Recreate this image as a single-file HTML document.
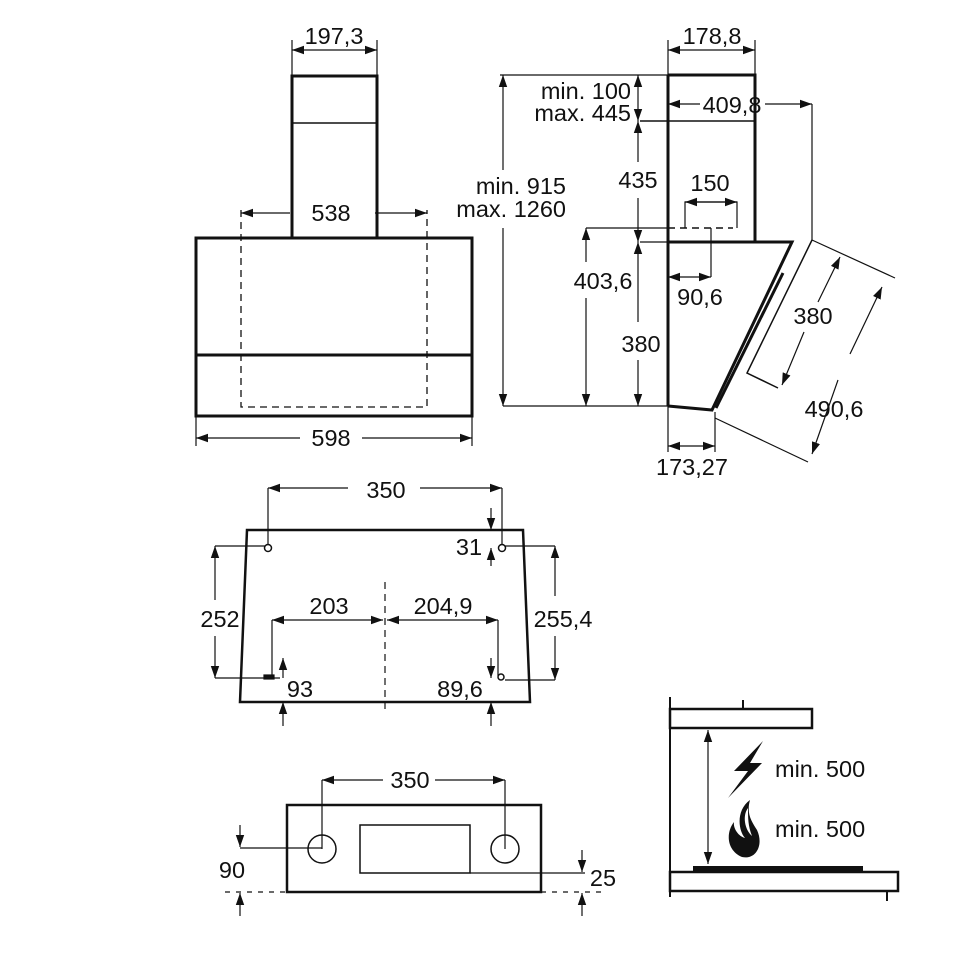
<!DOCTYPE html>
<html><head><style>body{margin:0;background:#fff}svg{display:block}text{font-family:"Liberation Sans",sans-serif;font-size:23.5px;fill:#111}</style></head><body>
<svg width="970" height="970" viewBox="0 0 970 970" xmlns="http://www.w3.org/2000/svg">
<defs>
<marker id="a" viewBox="0 0 10 10" refX="10" refY="5" markerWidth="12" markerHeight="12" markerUnits="userSpaceOnUse" orient="auto-start-reverse"><path d="M0,1.5 L10,5 L0,8.5 Z" fill="#111"/></marker>
</defs>
<g stroke="#111" fill="none" stroke-width="1.2">
<rect x="292" y="76" width="85" height="162" stroke-width="3"/>
<line x1="292" y1="123" x2="377" y2="123" stroke-width="1.5"/>
<rect x="196" y="238" width="276" height="178" stroke-width="3"/>
<line x1="196" y1="355" x2="472" y2="355" stroke-width="3"/>
<path d="M241,210 V407 H427 V210" stroke-dasharray="7,5" stroke-width="1.3"/>
<line x1="241" y1="213" x2="290" y2="213" marker-start="url(#a)"/>
<line x1="375" y1="213" x2="427" y2="213" marker-end="url(#a)"/>
<line x1="292" y1="40" x2="292" y2="76"/><line x1="377" y1="40" x2="377" y2="76"/>
<line x1="292" y1="50" x2="377" y2="50" marker-start="url(#a)" marker-end="url(#a)"/>
<line x1="196" y1="416" x2="196" y2="446"/><line x1="472" y1="416" x2="472" y2="446"/>
<line x1="196" y1="438" x2="300" y2="438" marker-start="url(#a)"/>
<line x1="362" y1="438" x2="472" y2="438" marker-end="url(#a)"/>
<path d="M668,75 H755 V242" stroke-width="3"/>
<line x1="668" y1="75" x2="668" y2="406" stroke-width="3"/>
<line x1="640" y1="121" x2="755" y2="121" stroke-width="1.5"/>
<path d="M668,242 H792 L712,410 L668,406" stroke-width="3"/>
<line x1="783" y1="273" x2="716" y2="408" stroke-width="3"/>
<path d="M812,240 L747,373 L778,388" stroke-width="1.5"/>
<line x1="812" y1="240" x2="895" y2="278"/>
<line x1="715" y1="418" x2="808" y2="462"/>
<line x1="882" y1="287" x2="850" y2="354" marker-start="url(#a)"/>
<line x1="838" y1="380" x2="812" y2="454" marker-end="url(#a)"/>
<line x1="840" y1="257" x2="818" y2="302" marker-start="url(#a)"/>
<line x1="804" y1="332" x2="782" y2="385" marker-end="url(#a)"/>
<line x1="500" y1="75" x2="668" y2="75"/>
<line x1="503" y1="406" x2="668" y2="406"/>
<line x1="503" y1="75" x2="503" y2="170" marker-start="url(#a)"/>
<line x1="503" y1="228" x2="503" y2="406" marker-end="url(#a)"/>
<line x1="586" y1="228" x2="668" y2="228"/>
<line x1="668" y1="228" x2="733" y2="228" stroke-dasharray="7,5" stroke-width="1.5"/>
<line x1="586" y1="228" x2="586" y2="262" marker-start="url(#a)"/>
<line x1="586" y1="298" x2="586" y2="406" marker-end="url(#a)"/>
<line x1="640" y1="242" x2="668" y2="242"/>
<line x1="638" y1="75" x2="638" y2="121" marker-start="url(#a)" marker-end="url(#a)"/>
<line x1="638" y1="121" x2="638" y2="162" marker-start="url(#a)"/>
<line x1="638" y1="198" x2="638" y2="242" marker-end="url(#a)"/>
<line x1="638" y1="242" x2="638" y2="322" marker-start="url(#a)"/>
<line x1="638" y1="360" x2="638" y2="406" marker-end="url(#a)"/>
<line x1="755" y1="40" x2="755" y2="75"/><line x1="668" y1="40" x2="668" y2="75"/>
<line x1="668" y1="50" x2="755" y2="50" marker-start="url(#a)" marker-end="url(#a)"/>
<line x1="668" y1="104" x2="700" y2="104" marker-start="url(#a)"/>
<line x1="765" y1="104" x2="812" y2="104" marker-end="url(#a)"/>
<line x1="812" y1="104" x2="812" y2="240"/>
<path d="M685,228 V202 H737 V228"/>
<line x1="685" y1="202" x2="737" y2="202" marker-start="url(#a)" marker-end="url(#a)"/>
<line x1="711" y1="228" x2="711" y2="277"/>
<line x1="668" y1="277" x2="711" y2="277" marker-start="url(#a)" marker-end="url(#a)"/>
<line x1="668" y1="406" x2="668" y2="452"/><line x1="715" y1="412" x2="715" y2="452"/>
<line x1="668" y1="446" x2="715" y2="446" marker-start="url(#a)" marker-end="url(#a)"/>
<path d="M247,530 H523 L530,702 H240 Z" stroke-width="2.5"/>
<circle cx="268" cy="548" r="3.5" stroke-width="1.5"/><circle cx="502" cy="548" r="3.5" stroke-width="1.5"/>
<line x1="268" y1="488" x2="268" y2="545"/><line x1="502" y1="488" x2="502" y2="545"/>
<line x1="268" y1="488" x2="348" y2="488" marker-start="url(#a)"/>
<line x1="420" y1="488" x2="502" y2="488" marker-end="url(#a)"/>
<line x1="491" y1="508" x2="491" y2="530" marker-end="url(#a)"/>
<line x1="491" y1="566" x2="491" y2="548" marker-end="url(#a)"/>
<line x1="215" y1="546" x2="265" y2="546"/><line x1="215" y1="678" x2="280" y2="678"/>
<line x1="215" y1="546" x2="215" y2="600" marker-start="url(#a)"/>
<line x1="215" y1="636" x2="215" y2="678" marker-end="url(#a)"/>
<line x1="272" y1="620" x2="272" y2="678"/>
<line x1="272" y1="620" x2="383" y2="620" marker-start="url(#a)" marker-end="url(#a)"/>
<line x1="387" y1="620" x2="498" y2="620" marker-start="url(#a)" marker-end="url(#a)"/>
<line x1="498" y1="620" x2="498" y2="676"/>
<line x1="385" y1="582" x2="385" y2="712" stroke-dasharray="7,5"/>
<line x1="505" y1="680" x2="555" y2="680"/><line x1="505" y1="546" x2="555" y2="546"/>
<line x1="555" y1="546" x2="555" y2="596" marker-start="url(#a)"/>
<line x1="555" y1="636" x2="555" y2="680" marker-end="url(#a)"/>
<line x1="283" y1="658" x2="283" y2="678" marker-start="url(#a)"/>
<line x1="283" y1="726" x2="283" y2="702" marker-end="url(#a)"/>
<line x1="491" y1="658" x2="491" y2="678" marker-end="url(#a)"/>
<line x1="491" y1="726" x2="491" y2="702" marker-end="url(#a)"/>
<rect x="264" y="675" width="10" height="4" fill="#111"/>
<circle cx="501" cy="677" r="3" stroke-width="1.5"/>
<rect x="287" y="805" width="254" height="87" stroke-width="2.5"/>
<circle cx="322" cy="849" r="14" stroke-width="1.5"/><circle cx="505" cy="849" r="14" stroke-width="1.5"/>
<rect x="360" y="825" width="110" height="48" stroke-width="1.5"/>
<line x1="322" y1="780" x2="322" y2="849"/><line x1="505" y1="780" x2="505" y2="849"/>
<line x1="322" y1="780" x2="383" y2="780" marker-start="url(#a)"/>
<line x1="435" y1="780" x2="505" y2="780" marker-end="url(#a)"/>
<line x1="240" y1="848" x2="322" y2="848"/>
<line x1="240" y1="825" x2="240" y2="847" marker-end="url(#a)"/>
<line x1="240" y1="916" x2="240" y2="893" marker-end="url(#a)"/>
<line x1="225" y1="892" x2="287" y2="892" stroke-dasharray="5,6"/>
<line x1="541" y1="892" x2="605" y2="892" stroke-dasharray="5,6"/>
<line x1="470" y1="873" x2="585" y2="873"/>
<line x1="582" y1="850" x2="582" y2="872" marker-end="url(#a)"/>
<line x1="582" y1="916" x2="582" y2="893" marker-end="url(#a)"/>
<line x1="670" y1="697" x2="670" y2="897" stroke-width="2"/>
<rect x="670" y="709" width="142" height="19" stroke-width="2.5"/>
<line x1="743" y1="700" x2="743" y2="709" stroke-width="2"/>
<line x1="708" y1="730" x2="708" y2="864" marker-start="url(#a)" marker-end="url(#a)"/>
<rect x="670" y="872" width="228" height="19" stroke-width="2.5"/>
<rect x="693" y="866" width="170" height="6" fill="#111" stroke="none"/>
<line x1="887" y1="891" x2="887" y2="901" stroke-width="2"/>
</g>
<path d="M763,741 L734,771 L748,771 L728,798 L762,763 L750,763 Z" fill="#111"/>
<path d="M750,800 C736,810 738,830 745,838 C738,836 733,828 734,822 C726,832 726,850 742,857 C756,860 764,845 757,830 C752,822 746,814 750,800 Z" fill="#111"/>
<path d="M748,808 C742,816 745,830 752,836 C748,826 748,818 748,808Z" fill="#fff"/>
<g>
<text x="334" y="44" text-anchor="middle">197,3</text>
<text x="331" y="221" text-anchor="middle">538</text>
<text x="331" y="446" text-anchor="middle">598</text>
<text x="566" y="194" text-anchor="end">min. 915</text>
<text x="566" y="217" text-anchor="end">max. 1260</text>
<text x="631" y="99" text-anchor="end">min. 100</text>
<text x="631" y="121" text-anchor="end">max. 445</text>
<text x="712" y="44" text-anchor="middle">178,8</text>
<text x="732" y="113" text-anchor="middle">409,8</text>
<text x="638" y="188" text-anchor="middle">435</text>
<text x="710" y="191" text-anchor="middle">150</text>
<text x="603" y="289" text-anchor="middle">403,6</text>
<text x="700" y="305" text-anchor="middle">90,6</text>
<text x="641" y="352" text-anchor="middle">380</text>
<text x="813" y="324" text-anchor="middle">380</text>
<text x="834" y="417" text-anchor="middle">490,6</text>
<text x="692" y="475" text-anchor="middle">173,27</text>
<text x="386" y="498" text-anchor="middle">350</text>
<text x="469" y="555" text-anchor="middle">31</text>
<text x="220" y="627" text-anchor="middle">252</text>
<text x="329" y="614" text-anchor="middle">203</text>
<text x="443" y="614" text-anchor="middle">204,9</text>
<text x="563" y="627" text-anchor="middle">255,4</text>
<text x="300" y="697" text-anchor="middle">93</text>
<text x="460" y="697" text-anchor="middle">89,6</text>
<text x="410" y="788" text-anchor="middle">350</text>
<text x="232" y="878" text-anchor="middle">90</text>
<text x="603" y="886" text-anchor="middle">25</text>
<text x="775" y="777">min. 500</text>
<text x="775" y="837">min. 500</text>
</g>
</svg>
</body></html>
